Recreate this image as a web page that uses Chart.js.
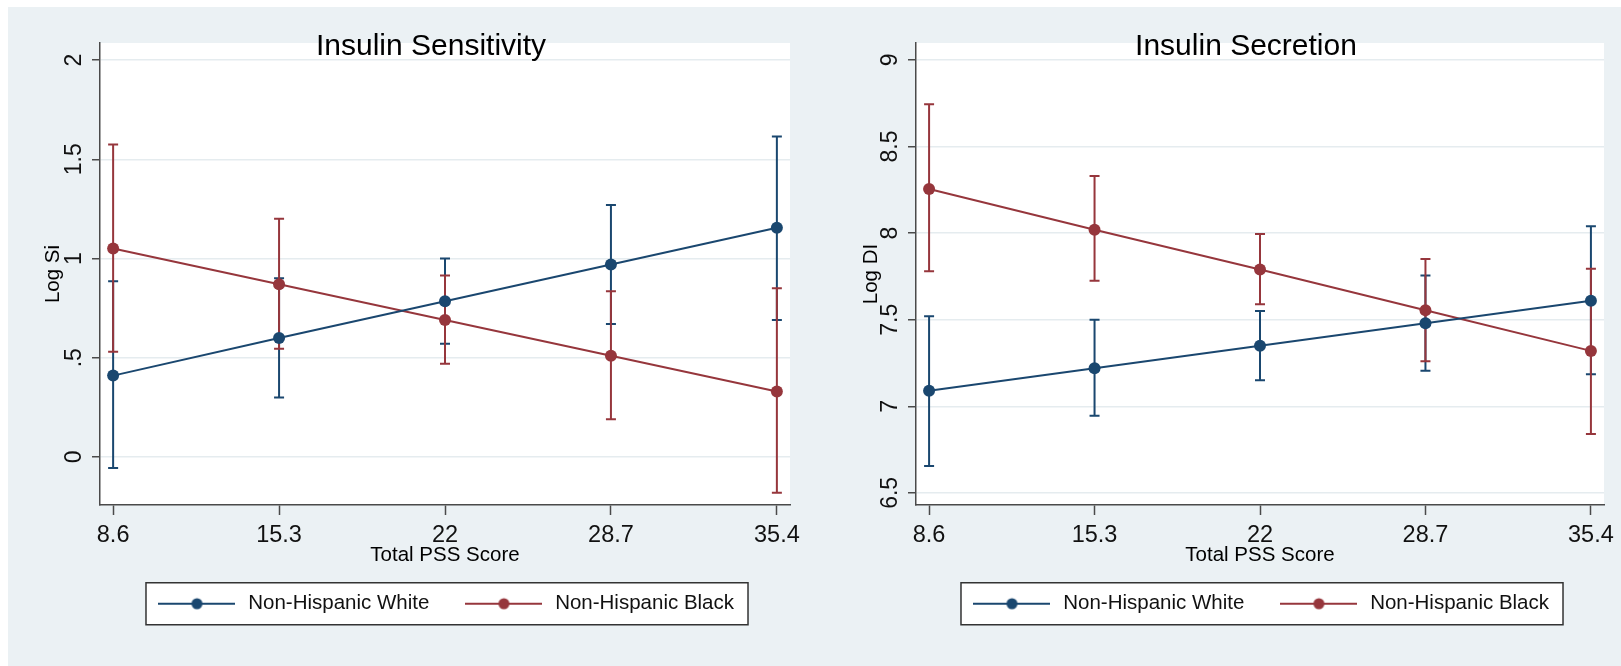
<!DOCTYPE html>
<html lang="en">
<head>
  <meta charset="UTF-8" />
  <title>Insulin Sensitivity / Insulin Secretion by Total PSS Score</title>
  <style>
    html, body { margin: 0; padding: 0; background: #fff; }
    body { width: 1621px; height: 666px; position: relative; overflow: hidden; }
    .graph-bg { position: absolute; left: 8px; top: 7px; width: 1613px; height: 659px; background: #ebf1f4; }
    canvas { position: absolute; top: 7px; }
    #siChart { left: 8px; }
    #diChart { left: 810px; }
  </style>
</head>
<body>
  <div class="graph-bg"></div>
  <canvas id="siChart" width="802" height="659"></canvas>
  <canvas id="diChart" width="811" height="659"></canvas>

  <script src="https://cdn.jsdelivr.net/npm/chart.js@4.4.1/dist/chart.umd.min.js"></script>
  <script>
    // x categories (Total PSS Score)
    const pssScores = [8.6, 15.3, 22, 28.7, 35.4];
    const groups = ['Non-Hispanic White', 'Non-Hispanic Black'];

    // Log Si (insulin sensitivity) with 95% CI
    const siWhite     = [0.41, 0.60, 0.785, 0.97, 1.155];
    const siWhiteLow  = [-0.055, 0.30, 0.57, 0.67, 0.69];
    const siWhiteHigh = [0.885, 0.90, 1.00, 1.27, 1.615];
    const siBlack     = [1.05, 0.87, 0.69, 0.51, 0.33];
    const siBlackLow  = [0.53, 0.545, 0.47, 0.19, -0.18];
    const siBlackHigh = [1.575, 1.20, 0.915, 0.835, 0.85];

    // Log DI (insulin secretion) with 95% CI
    const diWhite     = [7.09, 7.22, 7.35, 7.48, 7.61];
    const diWhiteLow  = [6.655, 6.945, 7.15, 7.205, 7.185];
    const diWhiteHigh = [7.52, 7.50, 7.55, 7.755, 8.04];
    const diBlack     = [8.255, 8.02, 7.79, 7.555, 7.32];
    const diBlackLow  = [7.78, 7.725, 7.59, 7.26, 6.84];
    const diBlackHigh = [8.745, 8.33, 7.995, 7.85, 7.795];

    // tick labels
    const siTicks = [0, 0.5, 1, 1.5, 2];
    const siTickLabels = ['0', '.5', '1', '1.5', '2'];
    const diTicks = [6.5, 7, 7.5, 8, 8.5, 9];
    const diTickLabels = ['6.5', '7', '7.5', '8', '8.5', '9'];

    const navy = '#1a476f';
    const maroon = '#96363c';
    const axisColor = '#4a4a4a';
    const gridColor = '#e5ecef';

    Chart.defaults.font.family = '"Liberation Sans", Arial, Helvetica, sans-serif';
    Chart.defaults.color = '#111';

    function legendSymbol(color) {
      const c = document.createElement('canvas');
      c.width = 77; c.height = 14;
      const g = c.getContext('2d');
      g.strokeStyle = color; g.lineWidth = 2;
      g.beginPath(); g.moveTo(0, 7); g.lineTo(77, 7); g.stroke();
      g.fillStyle = color;
      g.beginPath(); g.arc(38.5, 7, 5.5, 0, Math.PI * 2); g.fill();
      return c;
    }
    const symbols = [legendSymbol(navy), legendSymbol(maroon)];

    // white plot region + boxed legend, drawn under everything
    const panelBackground = {
      id: 'panelBackground',
      beforeDraw(chart) {
        const { ctx, chartArea: a } = chart;
        ctx.save();
        ctx.fillStyle = '#fff';
        ctx.fillRect(a.left, a.top, a.right - a.left, a.bottom - a.top);
        const boxes = chart.legend.legendHitBoxes;
        if (boxes && boxes.length) {
          const left = Math.min(...boxes.map(b => b.left)) - 10;
          const right = Math.max(...boxes.map(b => b.left + b.width)) + 14;
          const mid = boxes[0].top + boxes[0].height / 2;
          ctx.fillRect(left, mid - 21, right - left, 42);
          ctx.strokeStyle = '#333';
          ctx.lineWidth = 1.5;
          ctx.strokeRect(left, mid - 21, right - left, 42);
        }
        ctx.restore();
      }
    };

    // confidence interval caps
    const errorBars = {
      id: 'errorBars',
      beforeDatasetsDraw(chart) {
        const { ctx, scales: { x, y } } = chart;
        chart.data.datasets.forEach((ds, i) => {
          if (!chart.isDatasetVisible(i)) return;
          ctx.save();
          ctx.strokeStyle = ds.borderColor;
          ctx.lineWidth = 2;
          ds.data.forEach((pt, j) => {
            const px = x.getPixelForValue(pt.x);
            const lo = y.getPixelForValue(ds.ciLow[j]);
            const hi = y.getPixelForValue(ds.ciHigh[j]);
            ctx.beginPath();
            ctx.moveTo(px, lo); ctx.lineTo(px, hi);
            ctx.moveTo(px - 5, lo); ctx.lineTo(px + 5, lo);
            ctx.moveTo(px - 5, hi); ctx.lineTo(px + 5, hi);
            ctx.stroke();
          });
          ctx.restore();
        });
      }
    };

    // Stata style title, centred a bit left of the plot region
    const panelTitle = {
      id: 'panelTitle',
      afterDraw(chart, args, opts) {
        const { ctx, chartArea: a } = chart;
        ctx.save();
        ctx.font = '30px ' + Chart.defaults.font.family;
        ctx.fillStyle = '#000';
        ctx.textAlign = 'center';
        ctx.textBaseline = 'alphabetic';
        ctx.fillText(opts.text, (a.left + a.right) / 2 - 14, a.top + 12);
        ctx.restore();
      }
    };

    function series(values, low, high, label, color) {
      return {
        label: label,
        data: pssScores.map((x, i) => ({ x: x, y: values[i] })),
        ciLow: low,
        ciHigh: high,
        borderColor: color,
        backgroundColor: color,
        borderWidth: 2,
        pointRadius: 6,
        pointBorderWidth: 0,
        pointBackgroundColor: color,
        tension: 0
      };
    }

    function makeChart(id, cfg) {
      return new Chart(document.getElementById(id), {
        type: 'line',
        data: {
          datasets: [
            series(cfg.white, cfg.whiteLow, cfg.whiteHigh, groups[0], navy),
            series(cfg.black, cfg.blackLow, cfg.blackHigh, groups[1], maroon)
          ]
        },
        options: {
          responsive: false,
          animation: false,
          events: [],
          layout: { padding: cfg.padding },
          scales: {
            x: {
              type: 'linear',
              min: 8.07,
              max: 35.93,
              afterBuildTicks: s => { s.ticks = pssScores.map(v => ({ value: v })); },
              afterFit: s => { s.height = 55; },
              ticks: { font: { size: 23.5 }, color: '#111', padding: 6, maxRotation: 0, autoSkip: false, callback: v => String(v) },
              grid: { drawOnChartArea: false, tickLength: 10, tickColor: axisColor, tickWidth: 1.5 },
              border: { color: axisColor, width: 1.5 },
              title: { display: true, text: 'Total PSS Score', font: { size: 20.5 }, color: '#000', padding: { top: 0, bottom: -8 } }
            },
            y: {
              type: 'linear',
              min: cfg.yMin,
              max: cfg.yMax,
              afterBuildTicks: s => { s.ticks = cfg.ticks.map(v => ({ value: v })); },
              afterFit: s => { s.width = 92; },
              ticks: {
                font: { size: 23 }, color: '#111', padding: 1, minRotation: 90, maxRotation: 90, crossAlign: 'center',
                callback: v => cfg.tickLabels[cfg.ticks.indexOf(v)]
              },
              grid: { color: gridColor, lineWidth: 1.5, tickLength: 8, tickColor: axisColor, tickWidth: 1.5 },
              border: { color: axisColor, width: 1.5 },
              title: { display: true, text: cfg.yTitle, font: { size: 20.5 }, color: '#000', padding: { top: cfg.yTitlePad, bottom: 0 } }
            }
          },
          plugins: {
            legend: {
              position: 'bottom',
              fullSize: false,
              labels: {
                usePointStyle: true,
                pointStyleWidth: 82,
                padding: 33.5,
                color: '#111',
                font: { size: 20.5 },
                generateLabels(chart) {
                  const items = Chart.defaults.plugins.legend.labels.generateLabels(chart);
                  items.forEach((it, i) => { it.pointStyle = symbols[i]; });
                  return items;
                }
              }
            },
            tooltip: { enabled: false },
            panelTitle: { text: cfg.title }
          }
        },
        plugins: [panelBackground, errorBars, panelTitle]
      });
    }

    makeChart('siChart', {
      title: 'Insulin Sensitivity',
      yTitle: 'Log Si',
      yTitlePad: 33,
      white: siWhite, whiteLow: siWhiteLow, whiteHigh: siWhiteHigh,
      black: siBlack, blackLow: siBlackLow, blackHigh: siBlackHigh,
      ticks: siTicks, tickLabels: siTickLabels,
      yMin: -0.242, yMax: 2.086,
      padding: { top: 36, left: 0, right: 20, bottom: 42 }
    });

    makeChart('diChart', {
      title: 'Insulin Secretion',
      yTitle: 'Log DI',
      yTitlePad: 35,
      white: diWhite, whiteLow: diWhiteLow, whiteHigh: diWhiteHigh,
      black: diBlack, blackLow: diBlackLow, blackHigh: diBlackHigh,
      ticks: diTicks, tickLabels: diTickLabels,
      yMin: 6.43, yMax: 9.098,
      padding: { top: 36, left: 14, right: 17, bottom: 42 }
    });
  </script>
</body>
</html>
